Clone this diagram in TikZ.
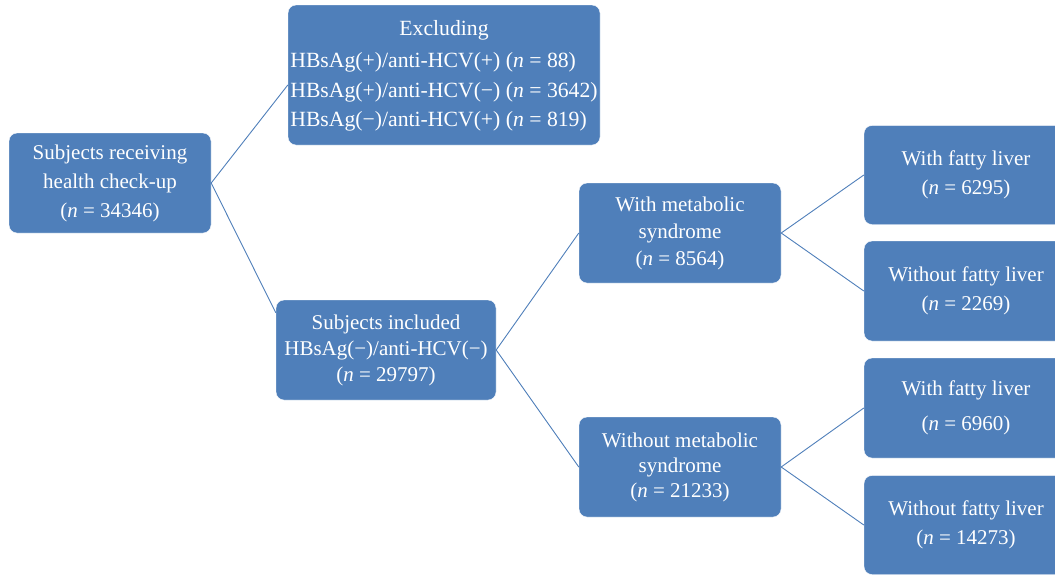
\documentclass[tikz,border=0pt]{standalone}
\usepackage{fontspec}
\setmainfont{Liberation Serif}
\usepackage{tikz}
\usetikzlibrary{calc}
\definecolor{boxblue}{RGB}{79,127,186}
\tikzset{
	box/.style={draw=white, fill=boxblue, rounded corners=8pt, text=white, align=center,
		inner sep=0pt, font=\fontsize{21}{29}\selectfont},
	link/.style={draw=boxblue, line width=0.9pt}
}
\newcommand{\nn}[1]{(\textit{n} = #1)}

\begin{document}
\begin{tikzpicture}[x=1pt, y=-1pt]
			%%%%% START %%%%%
			\useasboundingbox (0, 0) rectangle (1055, 574);
			
			\node[box, minimum width=202pt, minimum height=100pt] (check) at (110, 183) {Subjects receiving\\health check-up\\\nn{34346}};
			\node[box, minimum width=312pt, minimum height=140pt, font=\fontsize{21.7}{29.5}\selectfont] (excl) at (444, 75) {%
				\begin{tabular}{@{}l@{}}
					\multicolumn{1}{@{}c@{}}{Excluding}\\[3pt]
					HBsAg(+)/anti-HCV(+) \nn{88}\\
					HBsAg(+)/anti-HCV(−) \nn{3642}\\
					HBsAg(−)/anti-HCV(+) \nn{819}
				\end{tabular}};
			\node[box, minimum width=220pt, minimum height=100pt, font=\fontsize{21}{26}\selectfont] (incl) at (386, 350) {Subjects included\\HBsAg(−)/anti-HCV(−)\\\nn{29797}};
			
			\node[box, minimum width=202pt, minimum height=100pt, font=\fontsize{21}{27}\selectfont] (withms) at (680, 233) {With metabolic\\syndrome\\\nn{8564}};
			\node[box, minimum width=202pt, minimum height=100pt, font=\fontsize{21}{25}\selectfont] (withoutms) at (680, 467) {Without metabolic\\syndrome\\\nn{21233}};
			
			\node[box, minimum width=204pt, minimum height=99pt] (fat1) at (966, 175) {With fatty liver\\\nn{6295}};
			\node[box, minimum width=204pt, minimum height=100pt] (nofat1) at (966, 291) {Without fatty liver\\\nn{2269}};
			\node[box, minimum width=204pt, minimum height=100pt, font=\fontsize{21}{35}\selectfont] (fat2) at (966, 408) {With fatty liver\\\nn{6960}};
			\node[box, minimum width=204pt, minimum height=99pt] (nofat2) at (966, 525) {Without fatty liver\\\nn{14273}};
			
			\draw[link] ([yshift=-10pt]excl.west) -- (check.east) -- ($(incl.north west)+(0, 13)$);
			\draw[link] (withms.west) -- (incl.east) -- (withoutms.west);
			\draw[link] (fat1.west) -- (withms.east) -- (nofat1.west);
			\draw[link] (fat2.west) -- (withoutms.east) -- (nofat2.west);
			%%%%% END %%%%%
		\end{tikzpicture}
\end{document}
